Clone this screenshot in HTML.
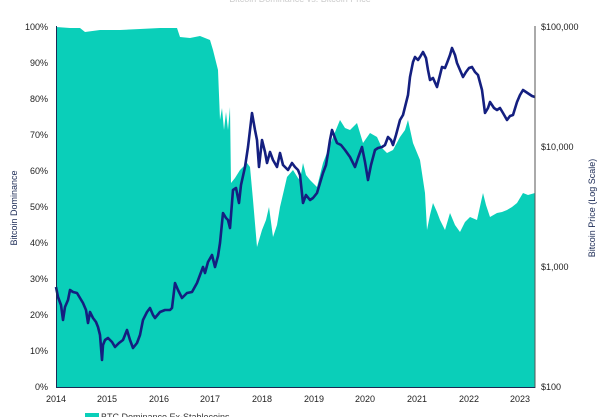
<!DOCTYPE html>
<html><head><meta charset="utf-8"><style>
html,body{margin:0;padding:0;background:#fff;}
svg{display:block;font-family:"Liberation Sans",sans-serif;}
</style></head><body>
<svg width="600" height="417" viewBox="0 0 600 417" xmlns="http://www.w3.org/2000/svg">
<text x="300" y="2" font-size="9" fill="#ccc" text-anchor="middle">Bitcoin Dominance vs. Bitcoin Price</text>
<path fill="#0acfb9" d="M56,388 L56,27 L70,28 L80,28 L85,32 L100,30 L120,30 L140,29 L160,28 L177,28 L180,37 L190,38 L200,36 L210,40 L213,50 L218,70 L220,120 L222,108 L224,130 L226,112 L228,130 L230,107 L231,183 L235,178 L240,170 L247,163 L250,167 L253,200 L257,247 L262,230 L266,220 L269,207 L273,237 L277,225 L280,207 L284,190 L287,177 L293,170 L298,178 L300,180 L303,163 L306,175 L310,180 L317,187 L323,163 L328,150 L333,137 L340,120 L345,128 L350,130 L357,123 L363,143 L370,133 L377,137 L382,148 L387,153 L393,150 L400,137 L405,130 L408,120 L413,143 L420,160 L425,193 L427,230 L430,215 L433,203 L437,212 L440,220 L445,230 L450,213 L455,225 L460,232 L465,222 L470,217 L477,220 L483,193 L486,205 L490,217 L497,213 L502,212 L507,210 L512,207 L517,203 L523,193 L528,195 L535,193 L535,388 Z"/>
<polyline fill="none" stroke="#141f80" stroke-width="2.6" stroke-linejoin="round" points="56,287 58,297 61,305 63,320 65,307 68,300 70,290 73,292 77,293 80,298 83,303 86,310 88,323 90,312 93,318 96,322 98,327 100,335 102,360 103,345 105,340 108,338 112,342 115,347 119,343 123,340 127,330 130,340 133,348 137,343 140,335 143,320 147,312 150,308 153,315 155,318 160,312 165,310 170,310 172,308 175,283 178,290 182,298 187,293 192,292 197,283 200,275 203,267 205,273 208,262 212,255 215,267 218,256 220,243 223,213 226,218 228,220 230,228 233,190 236,188 239,203 241,185 245,167 248,147 250,130 252,113 255,130 257,140 259,167 262,140 265,152 267,163 270,152 273,160 277,167 280,153 283,165 288,170 292,163 295,167 298,170 300,175 303,203 306,195 310,200 313,198 317,193 320,183 323,173 326,165 328,153 330,140 332,130 335,138 337,143 341,145 345,150 350,157 355,167 358,158 362,147 365,162 368,180 371,165 375,150 378,148 382,147 385,145 388,137 391,140 393,145 396,135 400,120 403,115 405,107 408,95 410,77 413,62 415,57 418,60 420,57 423,52 426,58 428,70 430,80 433,78 437,87 440,75 442,67 445,68 447,63 450,55 452,48 455,55 457,63 460,70 463,77 466,72 469,68 472,67 475,72 478,75 482,90 485,113 488,108 490,102 494,108 497,110 500,108 503,113 507,120 510,116 513,115 517,102 520,95 523,90 526,92 529,94 532,96 535,97"/>
<line x1="56.5" y1="26" x2="56.5" y2="388" stroke="#1b2a55" stroke-width="1"/>
<line x1="535" y1="26" x2="535" y2="388" stroke="#555" stroke-width="1"/>
<line x1="56" y1="387.5" x2="535" y2="387.5" stroke="#1b2a55" stroke-width="1"/>
<g font-size="9" fill="#222" text-anchor="end">
<text x="48" y="30">100%</text><text x="48" y="66">90%</text><text x="48" y="102">80%</text><text x="48" y="138">70%</text><text x="48" y="174">60%</text><text x="48" y="210">50%</text><text x="48" y="246">40%</text><text x="48" y="282">30%</text><text x="48" y="318">20%</text><text x="48" y="354">10%</text><text x="48" y="390">0%</text>
</g>
<g font-size="9" fill="#222">
<text x="541" y="30">$100,000</text><text x="541" y="150">$10,000</text><text x="541" y="270">$1,000</text><text x="541" y="390">$100</text>
</g>
<g font-size="9" fill="#222" text-anchor="middle">
<text x="56" y="402">2014</text><text x="107" y="402">2015</text><text x="159" y="402">2016</text><text x="210" y="402">2017</text><text x="262" y="402">2018</text><text x="314" y="402">2019</text><text x="365" y="402">2020</text><text x="417" y="402">2021</text><text x="469" y="402">2022</text><text x="520" y="402">2023</text>
</g>
<text transform="translate(17,208) rotate(-90)" font-size="9" fill="#1b2a55" text-anchor="middle">Bitcoin Dominance</text>
<text transform="translate(595,208) rotate(-90)" font-size="9" fill="#1b2a55" text-anchor="middle">Bitcoin Price (Log Scale)</text>
<rect x="85" y="413" width="14" height="6" fill="#0acfb9"/>
<text x="101" y="420" font-size="9" fill="#333">BTC Dominance Ex-Stablecoins</text>
</svg>
</body></html>
